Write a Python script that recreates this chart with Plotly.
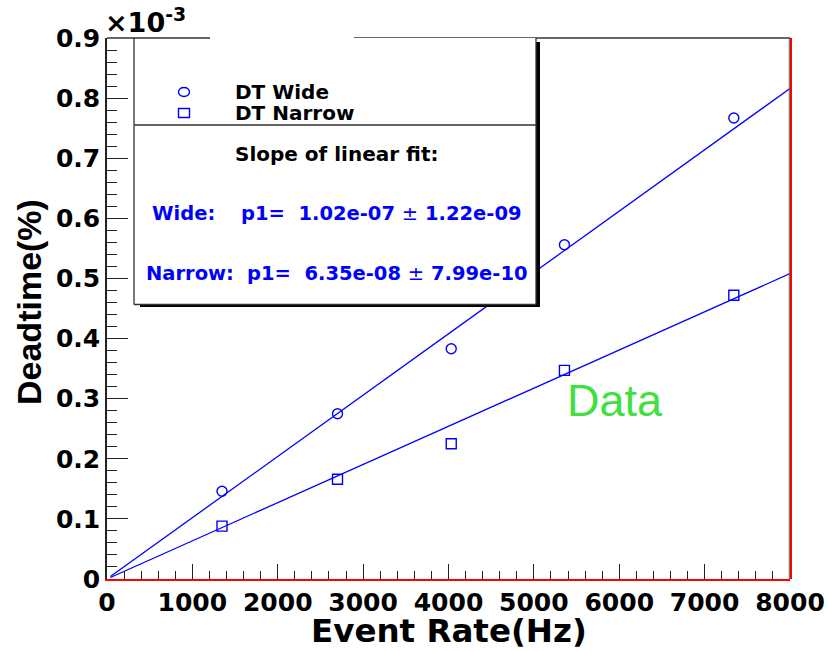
import plotly.graph_objects as go

# Measured dead time vs. event rate for the two discriminator settings
rate_hz = [1347, 2700, 4032, 5358, 7342]
dt_wide = [0.146, 0.275, 0.383, 0.556, 0.767]      # deadtime in units of 1e-3 %
dt_narrow = [0.088, 0.166, 0.225, 0.347, 0.472]    # deadtime in units of 1e-3 %

# Linear-fit results (slope p1 in %/Hz and its error)
fit_names = ["Wide:", "Narrow:"]
fit_p1 = [1.02e-07, 6.35e-08]
fit_p1_err = [1.22e-09, 7.99e-10]
fit_range = [40, 8000]

x_ticks = [0, 1000, 2000, 3000, 4000, 5000, 6000, 7000, 8000]
y_ticks = [0, 0.1, 0.2, 0.3, 0.4, 0.5, 0.6, 0.7, 0.8, 0.9]
y_scale = 1e-3  # axis multiplier shown as x10^-3

W, H = 829, 651
L, R, T, B = 107, 39, 38, 72
PW, PH = W - L - R, H - T - B

def px(x):
    return (x - L) / PW

def py(y):
    return (H - B - y) / PH

BLUE = "#0000ff"
BOLD = dict(family="DejaVu Sans", weight="bold")

fig = go.Figure()

# Fitted straight lines
for p1 in fit_p1:
    fig.add_trace(go.Scatter(
        x=fit_range, y=[p1 / y_scale * v for v in fit_range],
        mode="lines", line=dict(color=BLUE, width=1.3),
        showlegend=False, hoverinfo="skip"))

fig.add_trace(go.Scatter(
    x=rate_hz, y=dt_wide, mode="markers", name="DT Wide",
    marker=dict(symbol="circle-open", size=10, color=BLUE, line=dict(width=1.4)),
    showlegend=False))
fig.add_trace(go.Scatter(
    x=rate_hz, y=dt_narrow, mode="markers", name="DT Narrow",
    marker=dict(symbol="square-open", size=10, color=BLUE, line=dict(width=1.4)),
    showlegend=False))

shapes = []
# frame: top (with a gap), right side grey+red
shapes.append(dict(type="line", xref="paper", yref="paper", x0=px(354), x1=px(790), y0=py(38), y1=py(38),
                   line=dict(color="#333333", width=1.3), layer="above"))
shapes.append(dict(type="line", xref="paper", yref="paper", x0=px(789.3), x1=px(789.3), y0=py(38), y1=py(579),
                   line=dict(color="#555555", width=1), layer="above"))
shapes.append(dict(type="line", xref="paper", yref="paper", x0=px(791), x1=px(791), y0=py(38), y1=py(579),
                   line=dict(color="#ff0000", width=2), layer="above"))

# legend / fit box with shadow
shapes.append(dict(type="rect", xref="paper", yref="paper", x0=px(535.5), x1=px(540), y0=py(42), y1=py(307),
                   fillcolor="black", line=dict(width=0), layer="above"))
shapes.append(dict(type="rect", xref="paper", yref="paper", x0=px(140), x1=px(540), y0=py(304), y1=py(307),
                   fillcolor="black", line=dict(width=0), layer="above"))
shapes.append(dict(type="rect", xref="paper", yref="paper", x0=px(134), x1=px(536), y0=py(38), y1=py(304.5),
                   fillcolor="white", line=dict(width=0), layer="above"))
for (xa, ya, xb, yb) in [(134, 38, 134, 304.5), (134, 304.5, 536, 304.5), (536, 38, 536, 304.5),
                         (134, 125, 536, 125), (107, 38, 210, 38)]:
    shapes.append(dict(type="line", xref="paper", yref="paper", x0=px(xa), x1=px(xb), y0=py(ya), y1=py(yb),
                       line=dict(color="#333333", width=1.3), layer="above"))

# legend symbols
shapes.append(dict(type="circle", xref="paper", yref="paper", xsizemode="pixel", ysizemode="pixel",
                   xanchor=px(184), yanchor=py(92), x0=-5.5, x1=5.5, y0=-4.5, y1=4.5,
                   line=dict(color=BLUE, width=1.4), layer="above"))
shapes.append(dict(type="rect", xref="paper", yref="paper", xsizemode="pixel", ysizemode="pixel",
                   xanchor=px(184), yanchor=py(113), x0=-5.5, x1=5.5, y0=-4.5, y1=4.5,
                   line=dict(color=BLUE, width=1.4), layer="above"))

annotations = []

def text(x, y, s, size, color="black", xanchor="left", font=None, **kw):
    f = dict(BOLD) if font is None else dict(font)
    f.update(size=size, color=color)
    annotations.append(dict(xref="paper", yref="paper", x=px(x), y=py(y), text=s, showarrow=False,
                            xanchor=xanchor, yanchor="middle", font=f, **kw))

nb = "\u00a0"
text(233, 92, "DT Wide", 20)
text(233, 113, "DT Narrow", 20)
text(336, 154, "Slope of linear fit:", 20, xanchor="center")
for name, p1, err, yy, xl, xp in zip(fit_names, fit_p1, fit_p1_err, [213, 273], [150, 144], [239, 245]):
    text(xl, yy, name, 19.5, color=BLUE)
    text(xp, yy, f"p1={nb}{nb}{p1:.2e}{nb}<span style='font-weight:normal'>±</span>{nb}{err:.2e}",
         19.5, color=BLUE)

text(103, 20, "×10<sup>-3</sup>", 27)
text(449, 631, "Event Rate(Hz)", 32.5, xanchor="center", borderpad=0)
annotations.append(dict(xref="paper", yref="paper", x=px(29), y=py(302), text="Deadtime(%)",
                        showarrow=False, textangle=-90, xanchor="center", yanchor="middle",
                        font=dict(family="Liberation Sans", weight="bold", size=34, color="black")))
text(565, 400, "Data", 45, color="#40e040", font=dict(family="Liberation Sans"))

fig.update_layout(
    width=W, height=H,
    margin=dict(l=L, r=R, t=T, b=B, autoexpand=False),
    paper_bgcolor="white", plot_bgcolor="white",
    showlegend=False,
    shapes=shapes, annotations=annotations,
    xaxis=dict(range=[0, 8000], tickvals=x_ticks, ticktext=[str(v) for v in x_ticks],
               ticks="inside", ticklen=15, tickwidth=1.3, tickcolor="#222", automargin=False,
               minor=dict(ticks="inside", ticklen=8, dtick=200, tickwidth=1.3, tickcolor="#222"),
               showline=True, linecolor="#ff0000", linewidth=2, showgrid=False, zeroline=False,
               tickfont=dict(BOLD, size=25, color="black")),
    yaxis=dict(range=[0, 0.9], tickvals=y_ticks, ticktext=[f"{v:g}" for v in y_ticks],
               ticks="inside", ticklen=21, tickwidth=1.3, tickcolor="#222", automargin=False,
               minor=dict(ticks="inside", ticklen=10, dtick=0.02, tickwidth=1.3, tickcolor="#222"),
               showline=True, linecolor="#222", linewidth=1.5, showgrid=False, zeroline=False,
               tickfont=dict(BOLD, size=25, color="black")),
)

fig.write_html("out.html")
